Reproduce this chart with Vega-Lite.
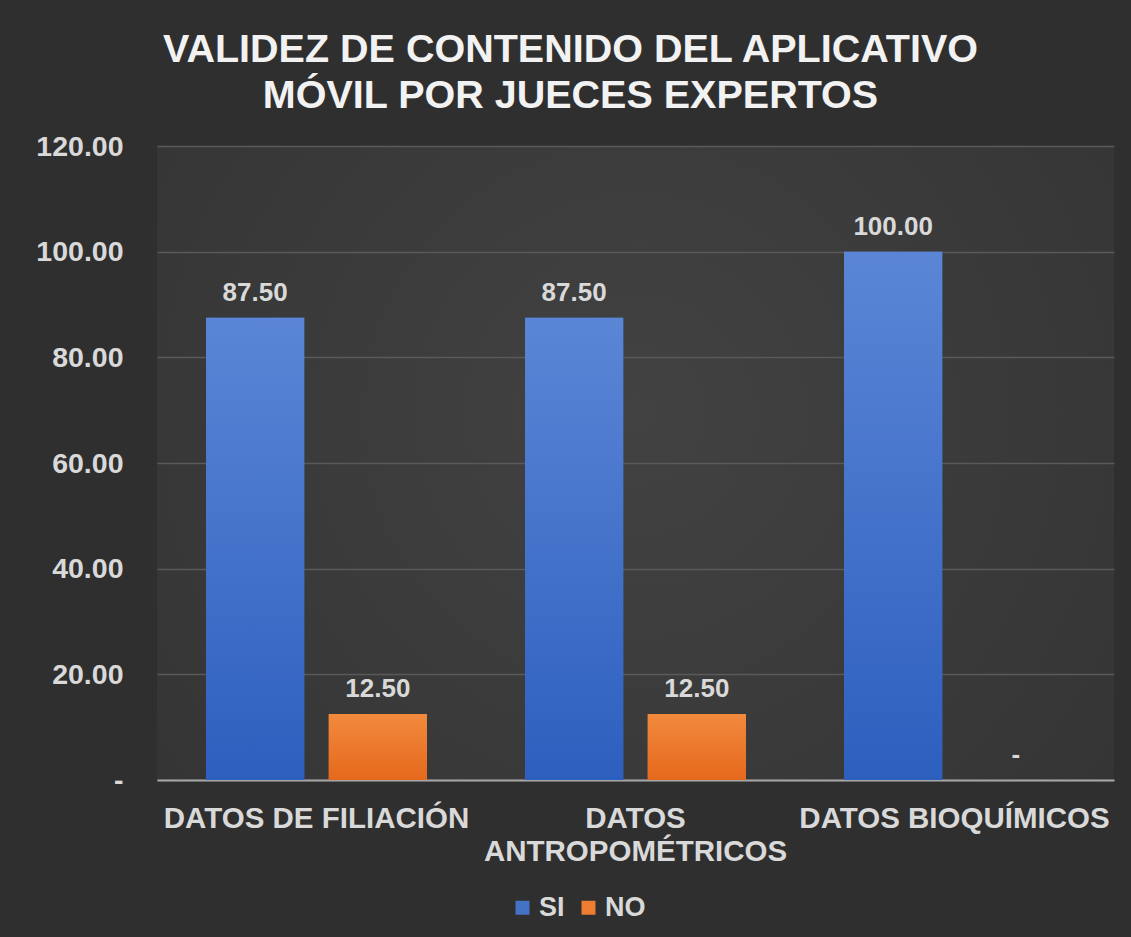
{
  "$schema": "https://vega.github.io/schema/vega-lite/v6.json",
  "autosize": {"type": "none"},
  "width": 957,
  "height": 634,
  "padding": {"left": 157, "top": 146, "right": 17, "bottom": 157},
  "background": "#2f2f2f",
  "config": {
    "font": "Liberation Sans",
    "view": {"stroke": null, "fill": {"gradient": "radial", "x1": 0.5, "y1": 0.45, "r1": 0, "x2": 0.5, "y2": 0.45, "r2": 0.75, "stops": [{"offset": 0, "color": "#424242"}, {"offset": 1, "color": "#323232"}]}}
  },
  "title": {
    "text": ["VALIDEZ DE CONTENIDO DEL APLICATIVO", "MÓVIL POR JUECES EXPERTOS"],
    "anchor": "middle",
    "frame": "group",
    "dx": -65,
    "offset": 16,
    "fontSize": 39.5,
    "lineHeight": 46,
    "fontWeight": "bold",
    "color": "#f2f2f2",
    "font": "Liberation Sans"
  },
  "data": {
    "values": [
      {"categoria": "DATOS DE FILIACIÓN", "serie": "SI", "valor": 87.5},
      {"categoria": "DATOS DE FILIACIÓN", "serie": "NO", "valor": 12.5},
      {"categoria": "DATOS ANTROPOMÉTRICOS", "serie": "SI", "valor": 87.5},
      {"categoria": "DATOS ANTROPOMÉTRICOS", "serie": "NO", "valor": 12.5},
      {"categoria": "DATOS BIOQUÍMICOS", "serie": "SI", "valor": 100},
      {"categoria": "DATOS BIOQUÍMICOS", "serie": "NO", "valor": 0}
    ]
  },
  "encoding": {
    "x": {
      "field": "categoria",
      "type": "nominal",
      "scale": {"domain": ["DATOS DE FILIACIÓN", "DATOS ANTROPOMÉTRICOS", "DATOS BIOQUÍMICOS"], "paddingInner": 0, "paddingOuter": 0},
      "axis": {
        "title": null,
        "labelAngle": 0,
        "labelExpr": "datum.value == 'DATOS ANTROPOMÉTRICOS' ? ['DATOS', 'ANTROPOMÉTRICOS'] : datum.value",
        "labelFontSize": 29.5,
        "labelFontWeight": "bold",
        "labelColor": "#d9d9d9",
        "labelLineHeight": 33,
        "labelPadding": 24,
        "labelLimit": 400,
        "ticks": false,
        "domain": true,
        "domainColor": "#a6a6a6",
        "domainWidth": 2,
        "grid": false
      }
    },
    "xOffset": {"field": "serie", "type": "nominal", "scale": {"domain": ["SI", "NO"], "paddingInner": 0.2, "paddingOuter": 0.4}},
    "y": {
      "field": "valor",
      "type": "quantitative",
      "scale": {"domain": [0, 120], "nice": false},
      "axis": {
        "title": null,
        "values": [0, 20, 40, 60, 80, 100, 120],
        "labelExpr": "datum.value == 0 ? '-' : format(datum.value, '.2f')",
        "labelFontSize": 28.5,
        "labelFontWeight": "bold",
        "labelColor": "#d9d9d9",
        "labelPadding": 34,
        "ticks": false,
        "domain": false,
        "grid": true,
        "gridColor": "#5a5a5a",
        "gridWidth": 1.5,
        "encode": {"labels": {"update": {"dx": {"signal": "datum.value == 0 ? -16 : 0"}}}}
      }
    }
  },
  "layer": [
    {
      "mark": {"type": "bar"},
      "encoding": {
        "color": {
          "field": "serie",
          "type": "nominal",
          "scale": {"domain": ["SI", "NO"], "range": ["#4472c4", "#ed7d31"]},
          "legend": {
            "title": null,
            "orient": "none",
            "direction": "horizontal",
            "legendX": 352,
            "legendY": 748,
            "padding": 0,
            "symbolType": "square",
            "symbolSize": 196,
            "symbolStrokeWidth": 0,
            "labelFontSize": 27,
            "labelFontWeight": "bold",
            "labelColor": "#d9d9d9",
            "labelOffset": 3,
            "columnPadding": 10
          }
        }
      }
    },
    {
      "transform": [{"filter": "datum.serie == 'SI'"}],
      "mark": {"type": "bar", "fill": {"gradient": "linear", "x1": 0, "y1": 0, "x2": 0, "y2": 1, "stops": [{"offset": 0, "color": "#5b86d6"}, {"offset": 1, "color": "#2d5fbf"}]}}
    },
    {
      "transform": [{"filter": "datum.serie == 'NO'"}],
      "mark": {"type": "bar", "fill": {"gradient": "linear", "x1": 0, "y1": 0, "x2": 0, "y2": 1, "stops": [{"offset": 0, "color": "#f28a3e"}, {"offset": 1, "color": "#e5691c"}]}}
    },
    {
      "mark": {"type": "text", "baseline": "alphabetic", "dy": -17, "fontSize": 26, "fontWeight": "bold", "color": "#d9d9d9"},
      "encoding": {
        "text": {"condition": {"test": "datum.valor == 0", "value": "-"}, "field": "valor", "type": "quantitative", "format": ".2f"}
      }
    }
  ]
}
